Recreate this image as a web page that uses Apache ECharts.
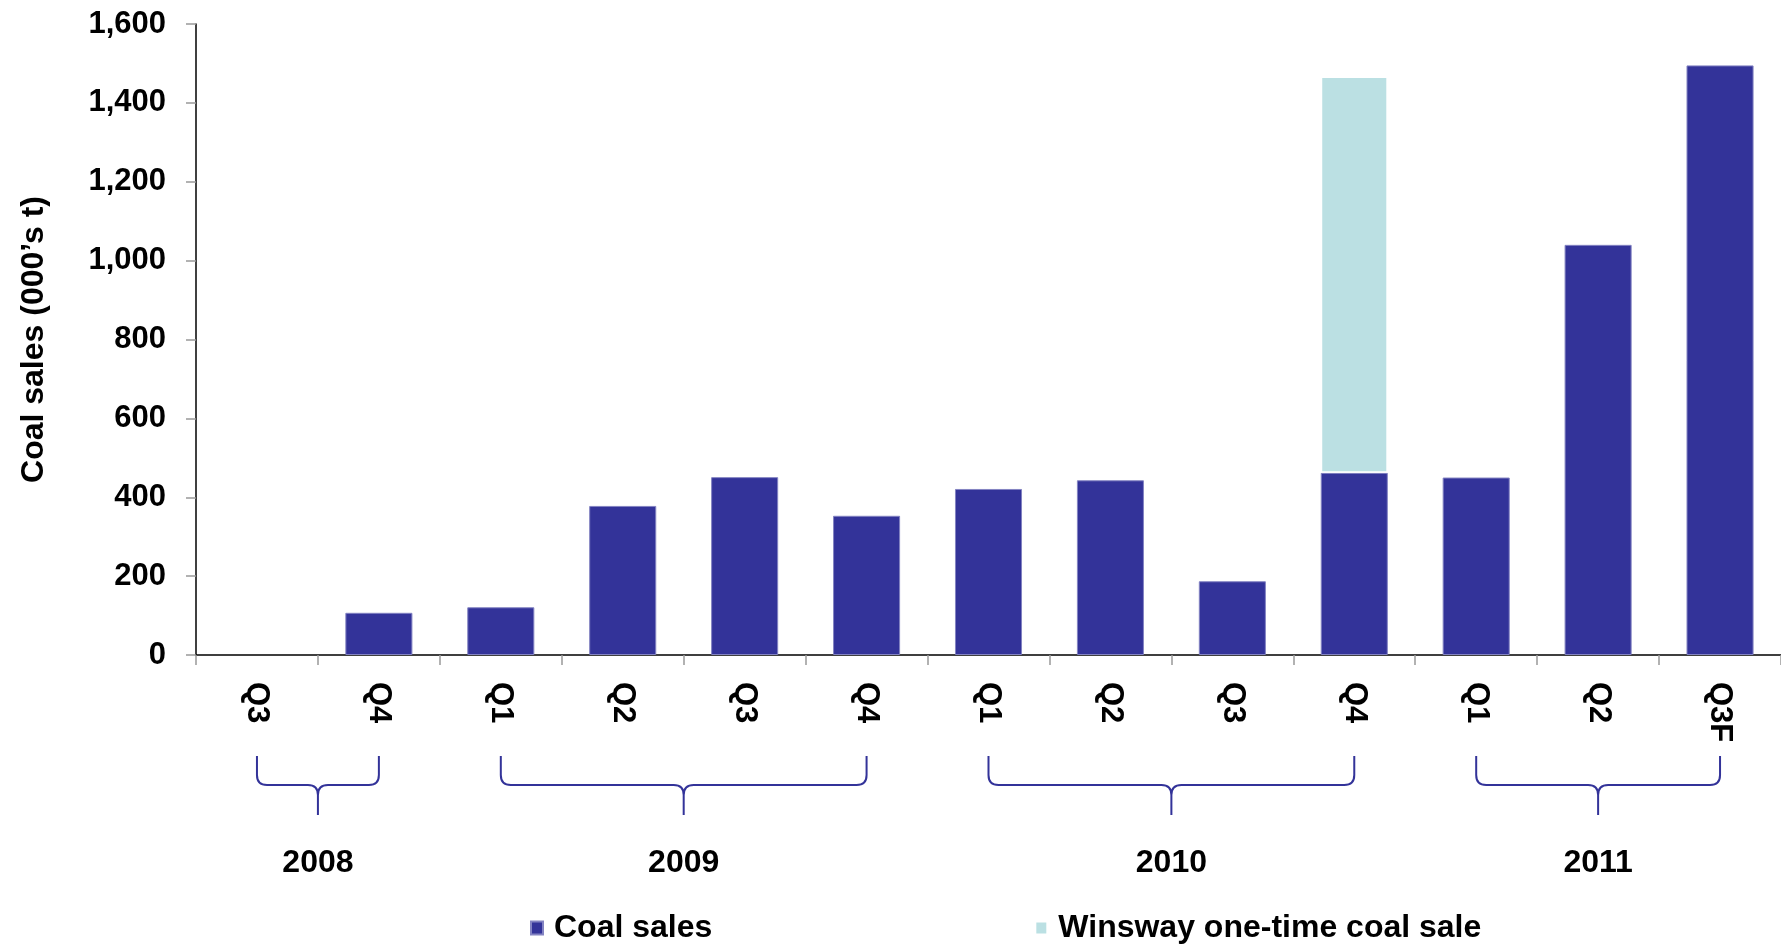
<!DOCTYPE html>
<html>
<head>
<meta charset="utf-8">
<script src="https://cdn.jsdelivr.net/npm/echarts@6/dist/echarts.min.js"></script>
<style>html,body{margin:0;padding:0;background:#fff;}#c{width:1781px;height:944px;}</style>
</head>
<body>
<div id="c"></div>
<script>
// ---- data ----
const quarterLabels = ['Q3','Q4','Q1','Q2','Q3','Q4','Q1','Q2','Q3','Q4','Q1','Q2','Q3F'];
const quarterYears  = ['2008','2008','2009','2009','2009','2009','2010','2010','2010','2010','2011','2011','2011'];
const coalSales     = [0, 107, 121, 378, 451, 353, 421, 443, 187, 462, 450, 1040, 1495];
const winswaySale   = [null, null, null, null, null, null, null, null, null, 1005, null, null, null];
const yearLabels    = ['2008', '2009', '2010', '2011'];
const yearStartIdx  = [0, 2, 6, 10];
const yearEndIdx    = [1, 5, 9, 12];
const yAxisTicks    = { min: 0, max: 1600, interval: 200 };

const categories = quarterLabels.map((q, i) => quarterYears[i] + ' ' + q);
const FONT = "'Liberation Sans', Arial, sans-serif";
const NAVY = '#333399';

const chart = echarts.init(document.getElementById('c'));
chart.setOption({
  animation: false,
  backgroundColor: '#fff',
  grid: { left: 196, right: 0, top: 24, bottom: 289, containLabel: false },
  legend: {
    data: ['Coal sales', 'Winsway one-time coal sale'],
    left: 525, top: 907,
    icon: 'rect', itemWidth: 12, itemHeight: 13, itemGap: 322,
    textStyle: { fontFamily: FONT, fontWeight: 'bold', fontSize: 32, color: '#000', padding: [0, 0, 0, 6] }
  },
  xAxis: {
    type: 'category',
    data: categories,
    boundaryGap: true,
    axisLine: { show: true, lineStyle: { color: '#000', width: 1.5 } },
    axisTick: { show: true, length: 10, lineStyle: { color: '#999', width: 1.5 } },
    axisLabel: {
      rotate: -90, margin: 27, interval: 0,
      fontFamily: FONT, fontWeight: 'bold', fontSize: 31, color: '#000',
      formatter: v => v.split(' ')[1]
    },
    splitLine: { show: false }
  },
  yAxis: {
    type: 'value',
    min: yAxisTicks.min, max: yAxisTicks.max, interval: yAxisTicks.interval,
    name: 'Coal sales (000’s t)',
    nameLocation: 'middle', nameGap: 146, nameRotate: 90,
    nameTextStyle: { fontFamily: FONT, fontWeight: 'bold', fontSize: 32, color: '#000' },
    axisLine: { show: true, lineStyle: { color: '#000', width: 1.5 } },
    axisTick: { show: true, length: 10, lineStyle: { color: '#999', width: 1.5 } },
    axisLabel: {
      margin: 30, fontFamily: FONT, fontWeight: 'bold', fontSize: 31, color: '#000',
      formatter: v => v.toLocaleString('en-US')
    },
    splitLine: { show: false }
  },
  series: [
    {
      name: 'Coal sales', type: 'bar', stack: 'total',
      data: coalSales.map(v => v === 0 ? { value: v, itemStyle: { borderWidth: 0, opacity: 0 } } : v),
      barWidth: '55%',
      itemStyle: { color: NAVY, borderColor: '#8383c2', borderWidth: 1 }
    },
    {
      name: 'Winsway one-time coal sale', type: 'bar', stack: 'total', data: winswaySale,
      barWidth: '55%',
      itemStyle: { color: '#bbe0e3', borderColor: '#ffffff', borderWidth: 1.5 }
    },
    {
      type: 'custom', name: 'years', clip: false, silent: true,
      data: yearStartIdx.map((s, i) => [s, yearEndIdx[i]]),
      encode: { x: 0, y: 1 },
      renderItem: function (params, api) {
        const s = api.value(0), e = api.value(1);
        const p1 = api.coord([s, 0]);
        const p2 = api.coord([e, 0]);
        const x1 = p1[0], x2 = p2[0], base = p1[1];
        const xm = (x1 + x2) / 2;
        const yTop = base + 101, yH = base + 130, yTip = base + 160;
        const r = 10;
        const d =
          'M' + x1 + ',' + yTop + ' L' + x1 + ',' + (yH - r) +
          ' Q' + x1 + ',' + yH + ' ' + (x1 + r) + ',' + yH +
          ' L' + (xm - r) + ',' + yH +
          ' Q' + xm + ',' + yH + ' ' + xm + ',' + (yH + r) +
          ' L' + xm + ',' + yTip +
          ' M' + x2 + ',' + yTop + ' L' + x2 + ',' + (yH - r) +
          ' Q' + x2 + ',' + yH + ' ' + (x2 - r) + ',' + yH +
          ' L' + (xm + r) + ',' + yH +
          ' Q' + xm + ',' + yH + ' ' + xm + ',' + (yH + r);
        return {
          type: 'group',
          children: [
            { type: 'path', shape: { pathData: d }, style: { stroke: NAVY, lineWidth: 2, fill: null } },
            { type: 'text', style: {
                text: yearLabels[params.dataIndex], x: xm, y: base + 208,
                align: 'center', verticalAlign: 'middle',
                font: 'bold 32px ' + FONT, fill: '#000'
            } }
          ]
        };
      }
    }
  ]
});
</script>
</body>
</html>
